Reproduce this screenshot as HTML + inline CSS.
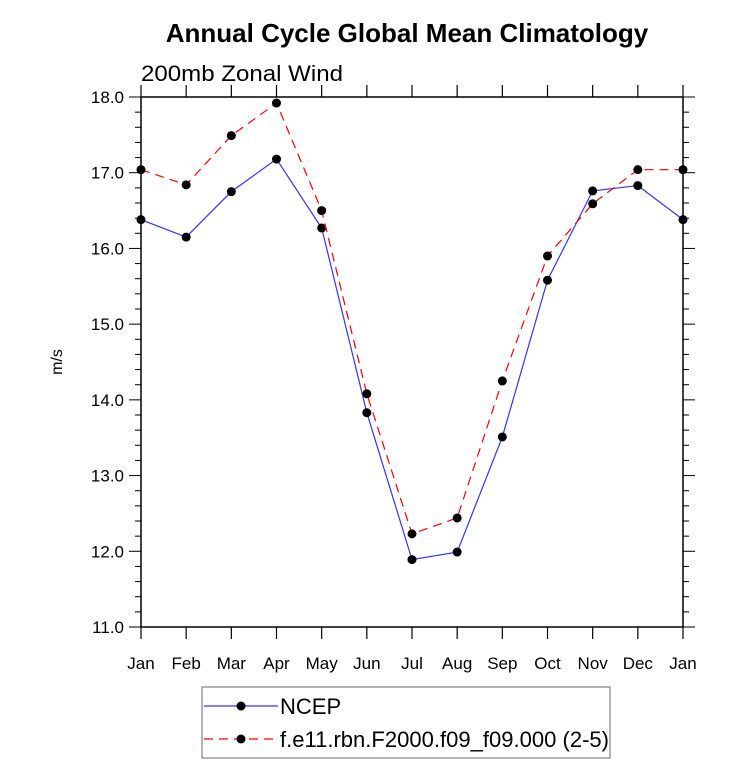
<!DOCTYPE html>
<html><head><meta charset="utf-8"><style>
body{margin:0;background:#fff;}
svg{display:block;font-family:"Liberation Sans",Arial,sans-serif;}
</style></head><body>
<svg id="chart" width="733" height="780">
<text x="407" y="42" text-anchor="middle" font-size="26" font-weight="bold">Annual Cycle Global Mean Climatology</text>
<text x="141" y="81" font-size="22" textLength="202" lengthAdjust="spacingAndGlyphs">200mb Zonal Wind</text>
<text transform="translate(62,362) rotate(-90)" text-anchor="middle" font-size="16">m/s</text>
<g id="axes"></g>
<g id="series"></g>
<g>
<rect x="202" y="687" width="408" height="71" fill="none" stroke="#808080" stroke-width="1.2"/>
<g>
<line x1="204" y1="706" x2="278" y2="706" stroke="#3333ff" stroke-width="1.2"/>
<circle cx="241" cy="706" r="4.5" fill="#000"/>
<text x="280" y="714" font-size="22">NCEP</text></g>
<g>
<line x1="204" y1="739" x2="278" y2="739" stroke="#ff0000" stroke-width="1.2" stroke-dasharray="9,6"/>
<circle cx="241" cy="739" r="4.5" fill="#000"/>
<text x="280" y="747" font-size="22" textLength="329" lengthAdjust="spacingAndGlyphs">f.e11.rbn.F2000.f09_f09.000 (2-5)</text></g>
</g>
</svg>
<script>
const months=["Jan","Feb","Mar","Apr","May","Jun","Jul","Aug","Sep","Oct","Nov","Dec","Jan"];
const ncep=[16.38,16.15,16.75,17.18,16.27,13.83,11.89,11.99,13.51,15.58,16.76,16.83,16.38];
const model=[17.04,16.84,17.49,17.92,16.50,14.08,12.23,12.44,14.25,15.90,16.59,17.04,17.04];
const yTicks=["11.0","12.0","13.0","14.0","15.0","16.0","17.0","18.0"];
const X0=141,X1=683,Y0=627,Y1=97,YMIN=11,YMAX=18;
const sx=i=>X0+(X1-X0)*i/(months.length-1);
const sy=v=>Y0-(Y0-Y1)*(v-YMIN)/(YMAX-YMIN);
const NS="http://www.w3.org/2000/svg";
function mk(tag,at,parent){const e=document.createElementNS(NS,tag);for(const k in at)e.setAttribute(k,at[k]);parent.appendChild(e);return e;}
const ax=document.getElementById('axes');
const frame=mk('rect',{x:X0,y:Y1,width:X1-X0,height:Y0-Y1,fill:'none',stroke:'#000','stroke-width':1.5},ax);


months.forEach((m,i)=>{
 const x=sx(i);
 mk('line',{x1:x,y1:Y0,x2:x,y2:Y0+12,stroke:'#000','stroke-width':1.2},ax);
 mk('line',{x1:x,y1:Y1,x2:x,y2:Y1-12,stroke:'#000','stroke-width':1.2},ax);
 const t=mk('text',{x:x,y:669,'text-anchor':'middle','font-size':17},ax);t.textContent=m;
 
 
});
for(let v=YMIN;v<=YMAX+1e-9;v+=0.2){
 const y=sy(v);const major=Math.abs(v-Math.round(v))<1e-6;const L=major?12:6;
 mk('line',{x1:X0-L,y1:y,x2:X0,y2:y,stroke:'#000','stroke-width':1},ax);
 mk('line',{x1:X1,y1:y,x2:X1+L,y2:y,stroke:'#000','stroke-width':1},ax);
}
yTicks.forEach(s=>{
 const t=mk('text',{x:124,y:sy(parseFloat(s))+6,'text-anchor':'end','font-size':17},ax);t.textContent=s;
 
 
});
const sg=document.getElementById('series');
function draw(vals,color,dash,name){
 const g=mk('g',{},sg);
 
 
 const p=mk('polyline',{points:vals.map((v,i)=>sx(i)+','+sy(v)).join(' '),fill:'none',stroke:color,'stroke-width':1.2},g);
 if(dash)p.setAttribute('stroke-dasharray',dash);
 vals.forEach((v,i)=>{const c=mk('circle',{cx:sx(i),cy:sy(v),r:4.5,fill:'#000'},g);
  
  });
}
draw(ncep,'#3333ff',null,'ncep-series');
draw(model,'#ff0000','9,6','model-series');
</script>
</body></html>
